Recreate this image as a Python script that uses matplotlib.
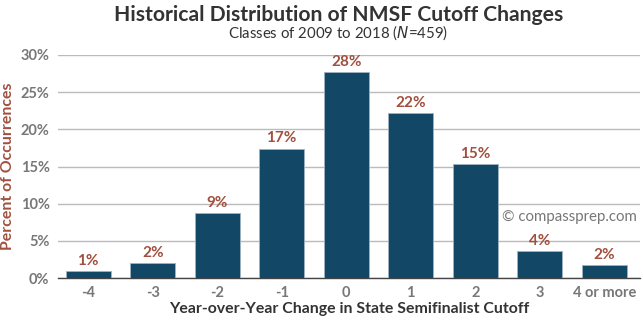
import matplotlib
matplotlib.use('Agg')
import matplotlib.pyplot as plt
from matplotlib.ticker import FuncFormatter

plt.rcParams['font.family'] = ['Lato', 'DejaVu Sans']

categories = ['-4', '-3', '-2', '-1', '0', '1', '2', '3', '4 or more']
percents = [0.9, 2.0, 8.7, 17.4, 27.7, 22.2, 15.3, 3.6, 1.7]
labels = ['1%', '2%', '9%', '17%', '28%', '22%', '15%', '4%', '2%']

BAR_COLOR = '#134766'
LABEL_COLOR = '#a1503e'
TEXT_COLOR = '#333333'
TICK_COLOR = '#777777'

fig = plt.figure(figsize=(6.43, 3.23), dpi=100)
ax = fig.add_axes([0.09, 0.139, 0.905, 0.691])

x = list(range(len(categories)))
ax.bar(x, percents, width=0.7, color=BAR_COLOR, edgecolor='#9fb3c2', linewidth=0.6, zorder=3)
for xi, p, lab in zip(x, percents, labels):
    ax.text(xi, p + 0.45, lab, ha='center', va='bottom', color=LABEL_COLOR,
            fontsize=11, fontweight='bold')

ax.set_ylim(0, 30)
ax.set_xlim(-0.47, 8.55)
ax.set_yticks([0, 5, 10, 15, 20, 25, 30])
ax.yaxis.set_major_formatter(FuncFormatter(lambda v, pos: '%d%%' % v))
ax.set_xticks(x)
ax.set_xticklabels(categories)
ax.grid(axis='y', color='#bbbbbb', linewidth=1.0, zorder=0)
for s in ['top', 'right', 'left']:
    ax.spines[s].set_visible(False)
ax.spines['bottom'].set_color('#444444')
ax.spines['bottom'].set_linewidth(1.0)
ax.tick_params(axis='both', length=0, labelsize=10.5, labelcolor=TICK_COLOR, pad=6)
for t in ax.get_xticklabels() + ax.get_yticklabels():
    t.set_fontweight('bold')

ax.set_xlabel('Year-over-Year Change in State Semifinalist Cutoff', fontsize=11.4,
              fontweight='bold', color=TEXT_COLOR, labelpad=1)
ax.set_ylabel('Percent of Occurrences', fontsize=11.4, fontweight='bold',
              color=LABEL_COLOR, labelpad=4)

fig.text(0.526, 0.955, 'Historical Distribution of NMSF Cutoff Changes', ha='center', va='center',
         fontsize=15.2, fontweight='bold', color=TEXT_COLOR)
fig.text(0.526, 0.898, 'Classes of 2009 to 2018 ($\\it{N}$=459)', ha='center', va='center',
         fontsize=10.8, color=TEXT_COLOR)
ax.text(0.995, 0.275, '\u00a9 compassprep.com', transform=ax.transAxes, ha='right', va='center',
        fontsize=10.8, color='#777777', zorder=4)

fig.savefig('out.png', dpi=100)
